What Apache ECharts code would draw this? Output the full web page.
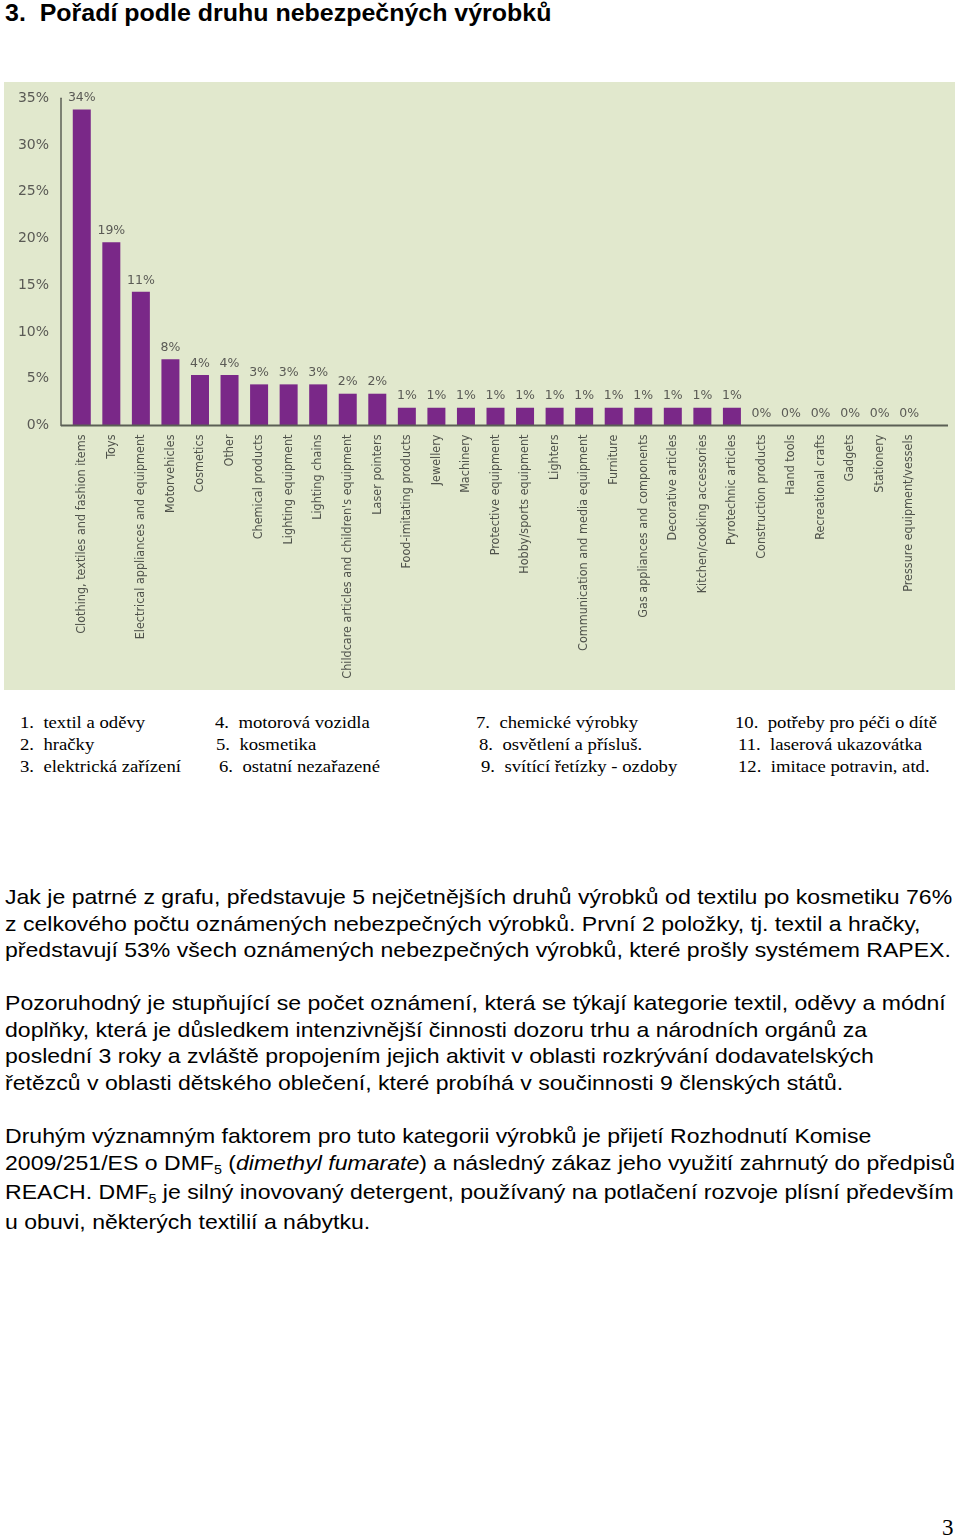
<!DOCTYPE html>
<html>
<head>
<meta charset="utf-8">
<script src="https://cdn.jsdelivr.net/npm/echarts@6/dist/echarts.min.js"></script>
<style>
  html, body { margin:0; padding:0; background:#fff; }
  body { width:960px; height:1540px; position:relative; overflow:hidden; }
  .title { position:absolute; left:5px; top:-1px; font-family:"Liberation Sans", Arial, sans-serif; font-weight:bold; font-size:24px; color:#000; white-space:nowrap; transform:scaleX(1.04); transform-origin:0 0; }
  #chartBox { position:absolute; left:4px; top:82px; width:951px; height:608px; background:#E1E8CD; }
  #chart { width:951px; height:608px; }
  .leg { position:absolute; font-family:"Liberation Serif", "Times New Roman", serif; font-size:17px; color:#000; white-space:nowrap; line-height:22px; transform:scaleX(1.1); transform-origin:0 0; }
  .para { position:absolute; left:5px; font-family:"Liberation Sans", Arial, sans-serif; font-size:21px; line-height:26.7px; color:#000; white-space:nowrap; transform:scaleX(1.098); transform-origin:0 0; }
  .para sub { font-size:13px; vertical-align:baseline; position:relative; top:4px; }
  .pnum { position:absolute; left:942px; top:1515px; font-family:"Liberation Serif", serif; font-size:23px; color:#000; }
</style>
</head>
<body>
<div class="title">3.&nbsp; Pořadí podle druhu nebezpečných výrobků</div>
<div id="chartBox"><div id="chart"></div></div>

<div class="leg" style="left:20px; top:712px;">1.&nbsp; textil a oděvy</div>
<div class="leg" style="left:20px; top:734px;">2.&nbsp; hračky</div>
<div class="leg" style="left:20px; top:756px;">3.&nbsp; elektrická zařízení</div>
<div class="leg" style="left:215px; top:712px;">4.&nbsp; motorová vozidla</div>
<div class="leg" style="left:216px; top:734px;">5.&nbsp; kosmetika</div>
<div class="leg" style="left:219px; top:756px;">6.&nbsp; ostatní nezařazené</div>
<div class="leg" style="left:476px; top:712px;">7.&nbsp; chemické výrobky</div>
<div class="leg" style="left:479px; top:734px;">8.&nbsp; osvětlení a přísluš.</div>
<div class="leg" style="left:481px; top:756px;">9.&nbsp; svítící řetízky - ozdoby</div>
<div class="leg" style="left:735px; top:712px;">10.&nbsp; potřeby pro péči o dítě</div>
<div class="leg" style="left:738px; top:734px;">11.&nbsp; laserová ukazovátka</div>
<div class="leg" style="left:738px; top:756px;">12.&nbsp; imitace potravin, atd.</div>

<div class="para" style="top:884px;">Jak je patrné z grafu, představuje 5 nejčetnějších druhů výrobků od textilu po kosmetiku 76%<br>z celkového počtu oznámených nebezpečných výrobků. První 2 položky, tj. textil a hračky,<br>představují 53% všech oznámených nebezpečných výrobků, které prošly systémem RAPEX.</div>
<div class="para" style="top:990px;">Pozoruhodný je stupňující se počet oznámení, která se týkají kategorie textil, oděvy a módní<br>doplňky, která je důsledkem intenzivnější činnosti dozoru trhu a národních orgánů za<br>poslední 3 roky a zvláště propojením jejich aktivit v oblasti rozkrývání dodavatelských<br>řetězců v oblasti dětského oblečení, které probíhá v součinnosti 9 členských států.</div>
<div class="para" style="top:1123px;">Druhým významným faktorem pro tuto kategorii výrobků je přijetí Rozhodnutí Komise<br>2009/251/ES o DMF<sub>5</sub> (<i>dimethyl fumarate</i>) a následný zákaz jeho využití zahrnutý do předpisů<br>REACH. DMF<sub>5</sub> je silný inovovaný detergent, používaný na potlačení rozvoje plísní především<br>u obuvi, některých textilií a nábytku.</div>
<div class="pnum">3</div>

<script>
// ---- data ----
const categories = [
  "Clothing, textiles and fashion items", "Toys", "Electrical appliances and equipment",
  "Motorvehicles", "Cosmetics", "Other", "Chemical products", "Lighting equipment",
  "Lighting chains", "Childcare articles and children's equipment", "Laser pointers",
  "Food-imitating products", "Jewellery", "Machinery", "Protective equipment",
  "Hobby/sports equipment", "Lighters", "Communication and media equipment", "Furniture",
  "Gas appliances and components", "Decorative articles", "Kitchen/cooking accessories",
  "Pyrotechnic articles", "Construction products", "Hand tools", "Recreational crafts",
  "Gadgets", "Stationery", "Pressure equipment/vessels"
];
// bar heights as drawn in the picture (percent)
const barHeights = [33.8, 19.6, 14.3, 7.1, 5.4, 5.4, 4.4, 4.4, 4.4, 3.4, 3.4,
  1.9, 1.9, 1.9, 1.9, 1.9, 1.9, 1.9, 1.9, 1.9, 1.9, 1.9, 1.9,
  0, 0, 0, 0, 0, 0];
// value labels printed above the bars
const barLabels = ["34%", "19%", "11%", "8%", "4%", "4%", "3%", "3%", "3%", "2%", "2%",
  "1%", "1%", "1%", "1%", "1%", "1%", "1%", "1%", "1%", "1%", "1%", "1%",
  "0%", "0%", "0%", "0%", "0%", "0%"];
const yTicks = [0, 5, 10, 15, 20, 25, 30, 35];

const chart = echarts.init(document.getElementById('chart'), null, {renderer: 'canvas'});
const gridTop = 16.3, gridBottom = 264.5;
chart.setOption({
  animation: false,
  backgroundColor: 'transparent',
  grid: { left: 63, right: 31, top: gridTop, bottom: gridBottom },
  xAxis: {
    type: 'category',
    data: categories,
    axisLine: { show: false },
    axisTick: { show: false },
    axisLabel: {
      interval: 0, rotate: 90, margin: 9,
      fontFamily: '"Liberation Sans Narrow", "DejaVu Sans Condensed", sans-serif',
      fontSize: 12.5, color: '#4f524b'
    }
  },
  yAxis: {
    type: 'value', min: 0, max: 35, interval: 5, offset: 6,
    axisLine: { show: true, lineStyle: { color: '#5b5f55', width: 1.5 } },
    axisTick: { show: false },
    splitLine: { show: false },
    axisLabel: {
      margin: 12, color: '#5a5a55',
      fontFamily: '"DejaVu Sans", sans-serif', fontSize: 14,
      formatter: v => yTicks.includes(v) ? v + '%' : ''
    }
  },
  series: [{
    type: 'bar',
    data: barHeights,
    barWidth: 18,
    itemStyle: { color: '#7a2888' },
    label: {
      show: true, position: 'top', distance: 5,
      fontFamily: '"DejaVu Sans", sans-serif', fontSize: 12.5, color: '#5a5a55',
      formatter: p => barLabels[p.dataIndex]
    }
  }],
  graphic: [{
    type: 'line',
    shape: { x1: 57, y1: 608 - gridBottom, x2: 944, y2: 608 - gridBottom },
    style: { stroke: '#5b5f55', lineWidth: 2 },
    z: 10
  }]
});
</script>
</body>
</html>
